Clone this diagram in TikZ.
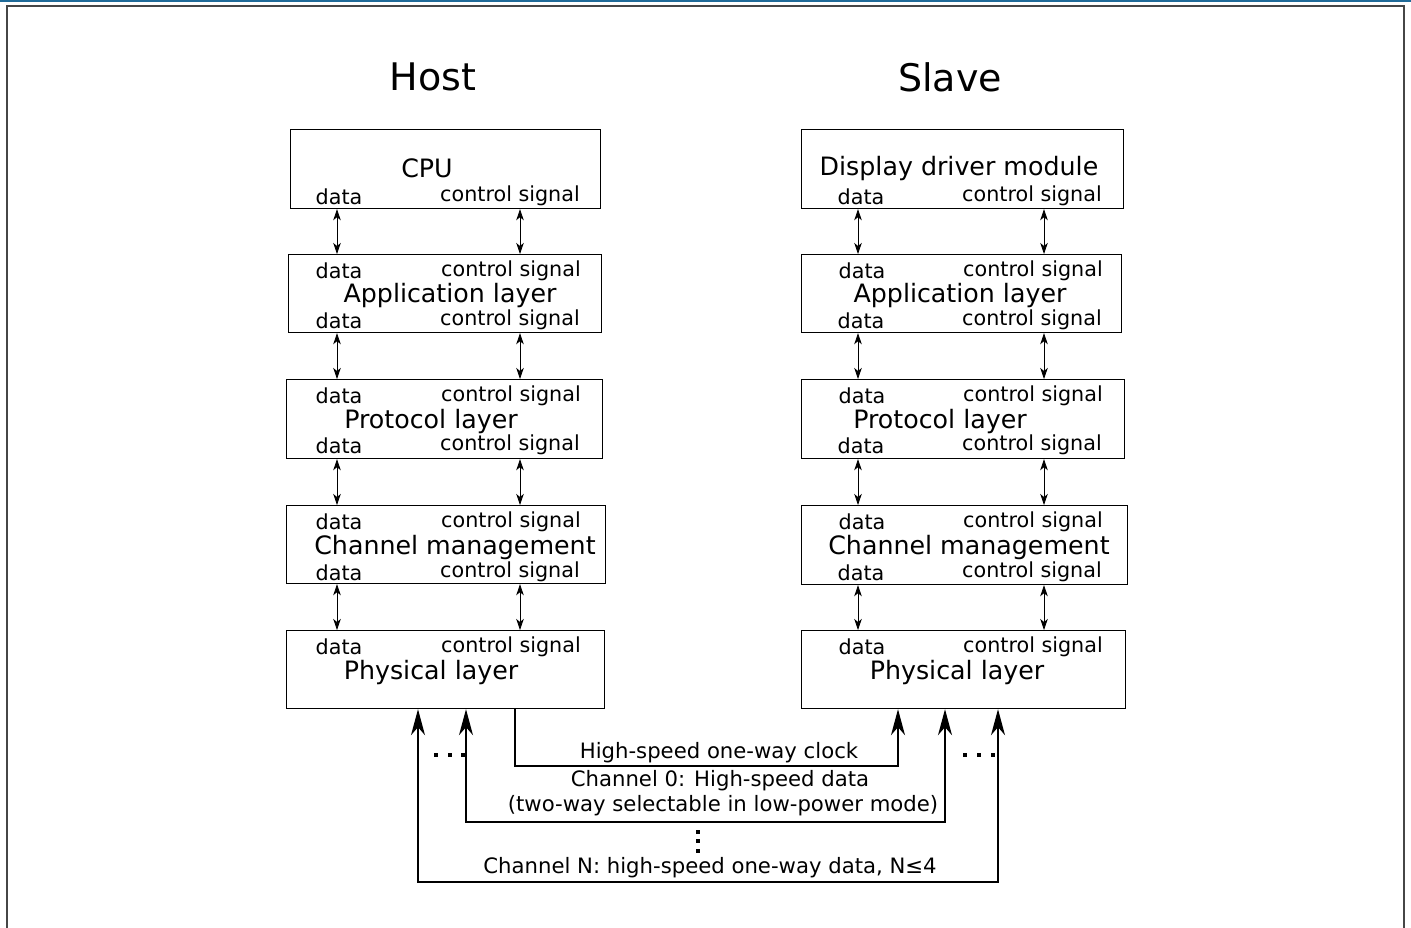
\documentclass[tikz,border=0pt]{standalone}
\usepackage{fontspec}
\setmainfont{DejaVu Sans}
\usetikzlibrary{arrows.meta}
\begin{document}
\begin{tikzpicture}[x=1pt,y=-1pt,
  layerbox/.style={draw=black,line width=1.2pt,anchor=north west,inner sep=0pt},
  main/.style={font=\fontsize{25.3}{28}\selectfont,inner sep=0pt,anchor=center,yshift=-2.5pt},
  small/.style={font=\fontsize{20.7}{23}\selectfont,inner sep=0pt,anchor=center,yshift=-1.5pt},
  bottomtxt/.style={font=\fontsize{21.2}{24}\selectfont,inner sep=0pt,anchor=center},
  title/.style={font=\fontsize{38}{42}\selectfont,inner sep=0pt,anchor=center},
  dbl/.style={line width=0.8pt,{Stealth[length=11pt,width=7.5pt,inset=3pt]}-{Stealth[length=11pt,width=7.5pt,inset=3pt]}},
  bigline/.style={line width=1.4pt},
  dotsq/.style={fill=black,draw=none,minimum size=4.5pt,inner sep=0pt},
]
\useasboundingbox (0,0) rectangle (1411,928);
\fill[white] (0,0) rectangle (1411,928);
% top blue rule and frame
\fill[color={rgb,255:red,31;green,106;blue,152}] (0,0) rectangle (1411,2.5);
\draw[line width=2pt,color={rgb,255:red,70;green,70;blue,70}] (7,935) -- (7,6) -- (1404,6) -- (1404,935);

% titles
\node[title] (hostt) at (433,77) {Host};
\node[title] (slavet) at (950,77) {Slave};

% host boxes
\node[layerbox,minimum width=310pt,minimum height=79pt] (hcpu) at (290,129) {};
\node[layerbox,minimum width=313pt,minimum height=78pt] (happ) at (288,254) {};
\node[layerbox,minimum width=316pt,minimum height=79pt] (hpro) at (286,379) {};
\node[layerbox,minimum width=319pt,minimum height=78pt] (hchn) at (286,505) {};
\node[layerbox,minimum width=318pt,minimum height=78pt] (hphy) at (286,630) {};
% slave boxes
\node[layerbox,minimum width=322pt,minimum height=79pt] (scpu) at (801,129) {};
\node[layerbox,minimum width=320pt,minimum height=78pt] (sapp) at (801,254) {};
\node[layerbox,minimum width=323pt,minimum height=79pt] (spro) at (801,379) {};
\node[layerbox,minimum width=326pt,minimum height=79pt] (schn) at (801,505) {};
\node[layerbox,minimum width=324pt,minimum height=78pt] (sphy) at (801,630) {};

% host texts
\node[main] (t1) at (427,166) {CPU};
\node[small] (t1a) at (339,195) {data};
\node[small] (t1b) at (510,194) {control signal};

\node[small] (t2a) at (339,269) {data};
\node[small] (t2b) at (511,269) {control signal};
\node[main] (t2) at (450,293) {Application layer};
\node[small] (t2c) at (339,319) {data};
\node[small] (t2d) at (510,318) {control signal};

\node[small] (t3a) at (339,394) {data};
\node[small] (t3b) at (511,394) {control signal};
\node[main] (t3) at (431,419) {Protocol layer};
\node[small] (t3c) at (339,444) {data};
\node[small] (t3d) at (510,443) {control signal};

\node[small] (t4a) at (339,520) {data};
\node[small] (t4b) at (511,520) {control signal};
\node[main] (t4) at (455,545) {Channel management};
\node[small] (t4c) at (339,571) {data};
\node[small] (t4d) at (510,570) {control signal};

\node[small] (t5a) at (339,645) {data};
\node[small] (t5b) at (511,645) {control signal};
\node[main] (t5) at (431,670) {Physical layer};

% slave texts
\node[main] (u1) at (959,166) {Display driver module};
\node[small] (u1a) at (861,195) {data};
\node[small] (u1b) at (1032,194) {control signal};

\node[small] (u2a) at (862,269) {data};
\node[small] (u2b) at (1033,269) {control signal};
\node[main] (u2) at (960,293) {Application layer};
\node[small] (u2c) at (861,319) {data};
\node[small] (u2d) at (1032,318) {control signal};

\node[small] (u3a) at (862,394) {data};
\node[small] (u3b) at (1033,394) {control signal};
\node[main] (u3) at (940,419) {Protocol layer};
\node[small] (u3c) at (861,444) {data};
\node[small] (u3d) at (1032,443) {control signal};

\node[small] (u4a) at (862,520) {data};
\node[small] (u4b) at (1033,520) {control signal};
\node[main] (u4) at (969,545) {Channel management};
\node[small] (u4c) at (861,571) {data};
\node[small] (u4d) at (1032,570) {control signal};

\node[small] (u5a) at (862,645) {data};
\node[small] (u5b) at (1033,645) {control signal};
\node[main] (u5) at (957,670) {Physical layer};

% column coordinates
\coordinate (hd) at (337,0);
\coordinate (hc) at (520,0);
\coordinate (sd) at (858,0);
\coordinate (sc) at (1044,0);

\foreach \a/\b in {hcpu/happ,happ/hpro,hpro/hchn,hchn/hphy}{
  \draw[dbl] (\a.south -| hd) -- (\b.north -| hd);
  \draw[dbl] (\a.south -| hc) -- (\b.north -| hc);
}
\foreach \a/\b in {scpu/sapp,sapp/spro,spro/schn,schn/sphy}{
  \draw[dbl] (\a.south -| sd) -- (\b.north -| sd);
  \draw[dbl] (\a.south -| sc) -- (\b.north -| sc);
}

% bottom channels
\coordinate (clkL) at (515,766);
\coordinate (clkR) at (898,766);
\coordinate (c0L) at (466,822);
\coordinate (c0R) at (945,822);
\coordinate (cnL) at (418,882);
\coordinate (cnR) at (998,882);

\draw[bigline,-{Stealth[length=26pt,width=14pt,inset=8pt]}] (hphy.south -| clkL) |- (clkR) -- (clkR |- sphy.south);
\draw[bigline,{Stealth[length=26pt,width=14pt,inset=8pt]}-{Stealth[length=26pt,width=14pt,inset=8pt]}] (hphy.south -| c0L) -- (c0L) -- (c0R) -- (c0R |- sphy.south);
\draw[bigline,{Stealth[length=26pt,width=14pt,inset=8pt]}-{Stealth[length=26pt,width=14pt,inset=8pt]}] (hphy.south -| cnL) -- (cnL) -- (cnR) -- (cnR |- sphy.south);

\node[bottomtxt] (lclk) at (719,753) {High-speed one-way clock};
\node[bottomtxt] (lc0) at (720,781) {Channel 0: High-speed data};
\node[bottomtxt] (lc0b) at (723,806) {(two-way selectable in low-power mode)};
\node[bottomtxt] (lcn) at (710,868) {Channel N: high-speed one-way data, N≤4};

% dots
\node[dotsq] (dl1) at (436,755) {};
\node[dotsq] (dl2) at (450,755) {};
\node[dotsq] (dl3) at (463,755) {};
\node[dotsq] (dr1) at (965,755) {};
\node[dotsq] (dr2) at (979,755) {};
\node[dotsq] (dr3) at (993,755) {};
\node[dotsq] (dv1) at (698,832) {};
\node[dotsq] (dv2) at (698,841) {};
\node[dotsq] (dv3) at (698,851) {};
\end{tikzpicture}
\end{document}
